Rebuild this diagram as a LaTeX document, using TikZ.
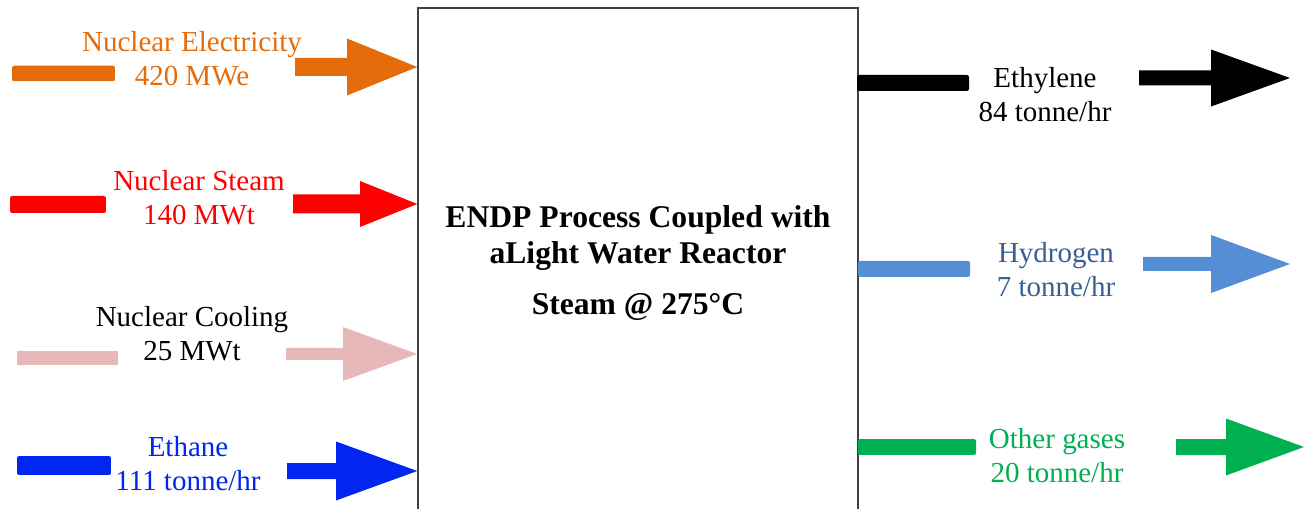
\documentclass[tikz,border=0pt]{standalone}
\usepackage{fontspec}
\setmainfont{Liberation Serif}
\definecolor{elecorange}{HTML}{E46C0A}
\definecolor{steamred}{HTML}{FF0000}
\definecolor{coolpink}{HTML}{E6B9B8}
\definecolor{ethaneblue}{HTML}{0026F0}
\definecolor{htwoblue}{HTML}{558ED5}
\definecolor{htwotext}{HTML}{376092}
\definecolor{gasgreen}{HTML}{00B050}
\begin{document}
\begin{tikzpicture}[x=0.02cm,y=-0.02cm,
  lbl/.style={font=\fontsize{16.5}{19.3}\selectfont,align=center,inner sep=0pt,text=#1},
  bar/.style={fill=#1,rounded corners=1.2pt,inner sep=0pt}]
  \useasboundingbox (0,0) rectangle (1307,509);
  \clip (0,0) rectangle (1307,509);
  % process box
  \node[draw=black!75,line width=0.9pt,minimum width=8.8cm,minimum height=10.24cm,inner sep=0pt] (box) at (638,264) {};
  \node[font=\fontsize{18}{21}\selectfont\bfseries,align=center] (title) at (638,263) {ENDP Process Coupled with\\aLight Water Reactor\\[8pt]Steam @ 275°C};
  % inputs
  \node[bar=elecorange,minimum width=2.06cm,minimum height=0.31cm] (elecbar) at (63.5,73.5) {};
  \node[bar=steamred,minimum width=1.92cm,minimum height=0.34cm] (steambar) at (58,204.5) {};
  \node[bar=coolpink,rounded corners=0pt,minimum width=2.02cm,minimum height=0.28cm] (coolbar) at (67.5,358) {};
  \node[bar=ethaneblue,minimum width=1.88cm,minimum height=0.38cm] (ethanebar) at (64,465.5) {};
  \node[lbl=elecorange] (elec) at (192,59) {Nuclear Electricity\\420 MWe};
  \node[lbl=steamred] (steam) at (199,197.5) {Nuclear Steam\\140 MWt};
  \node[lbl=black] (cool) at (192,333.5) {Nuclear Cooling\\25 MWt};
  \node[lbl=ethaneblue] (ethane) at (188,463.5) {Ethane\\111 tonne/hr};
  \foreach \c/\xa/\xb/\yc/\sh/\hh in {elecorange/295/347/67/9/28.5,steamred/293/360/204/9.5/23,coolpink/286/343/354/6/27,ethaneblue/287/336/471/8/29.5}
    \fill[\c] (\xa,\yc-\sh) -- (\xb,\yc-\sh) -- (\xb,\yc-\hh) -- (box.west |- 0,\yc) -- (\xb,\yc+\hh) -- (\xb,\yc+\sh) -- (\xa,\yc+\sh) -- cycle;
  % outputs
  \node[bar=black,minimum width=2.24cm,minimum height=0.32cm] (ethylbar) at (913,83) {};
  \node[bar=htwoblue,minimum width=2.24cm,minimum height=0.32cm] (htwobar) at (914,269) {};
  \node[bar=gasgreen,minimum width=2.36cm,minimum height=0.32cm] (gasbar) at (917,447) {};
  \node[lbl=black] (ethyl) at (1045,95) {Ethylene\\84 tonne/hr};
  \node[lbl=htwotext] (htwo) at (1056,270) {Hydrogen\\7 tonne/hr};
  \node[lbl=gasgreen] (gas) at (1057,456) {Other gases\\20 tonne/hr};
  \foreach \c/\xa/\xb/\xt/\yc/\sh/\hh in {black/1139/1211/1290/78/7.5/28.5,htwoblue/1143/1211/1290/264/7/29,gasgreen/1176/1226/1304/447/8/28.5}
    \fill[\c] (\xa,\yc-\sh) -- (\xb,\yc-\sh) -- (\xb,\yc-\hh) -- (\xt,\yc) -- (\xb,\yc+\hh) -- (\xb,\yc+\sh) -- (\xa,\yc+\sh) -- cycle;
\end{tikzpicture}
\end{document}
